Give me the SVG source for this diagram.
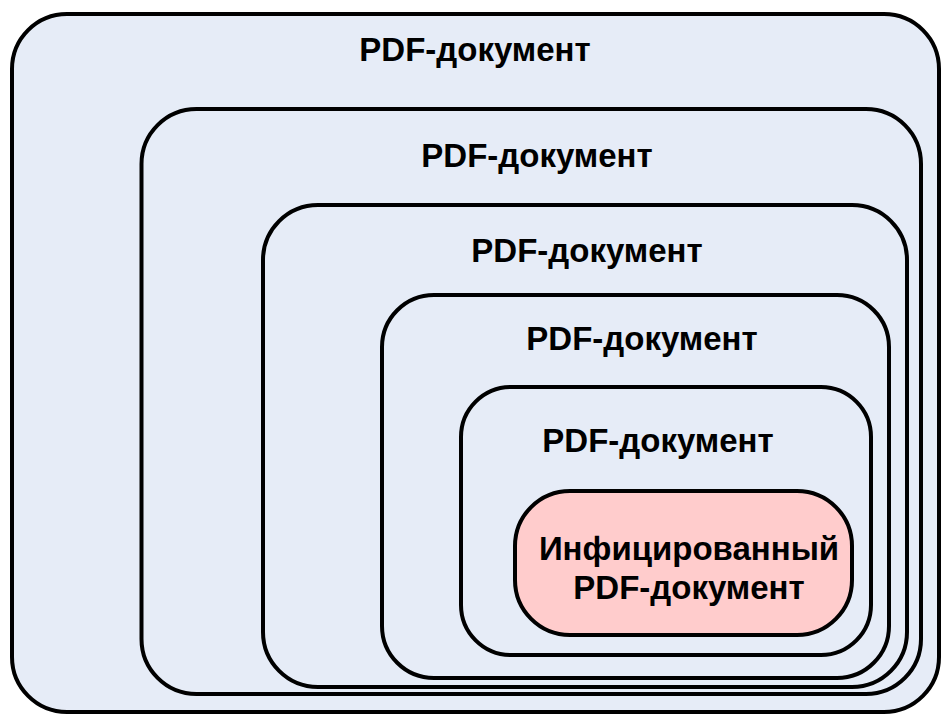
<svg xmlns="http://www.w3.org/2000/svg" width="942" height="715" viewBox="0 0 942 715">
<style>
.box{fill:#E6ECF7;stroke:#000;stroke-width:4}
.inf{fill:#FFCCCC;stroke:#000;stroke-width:4}
.t{font-family:"Liberation Sans",Arial,sans-serif;font-weight:bold;font-size:33px;fill:#000;text-anchor:middle}
</style>
<rect width="942" height="715" fill="#FFFFFF"/>
<g id="doc1">
<rect class="box" x="12" y="14" width="927" height="698" rx="55" ry="55"/>
<text class="t" x="475" y="61">PDF-документ</text>
</g>
<g id="doc2">
<rect class="box" x="141.5" y="109" width="779.5" height="585" rx="55" ry="55"/>
<text class="t" x="537" y="167">PDF-документ</text>
</g>
<g id="doc3">
<rect class="box" x="263" y="205" width="644" height="482" rx="55" ry="55"/>
<text class="t" x="587" y="262">PDF-документ</text>
</g>
<g id="doc4">
<rect class="box" x="382" y="295" width="507" height="383" rx="52" ry="52"/>
<text class="t" x="642" y="350">PDF-документ</text>
</g>
<g id="doc5">
<rect class="box" x="461" y="387" width="410" height="268" rx="50" ry="50"/>
<text class="t" x="658" y="452">PDF-документ</text>
</g>
<g id="infected">
<rect class="inf" x="515" y="491" width="337" height="144" rx="55" ry="55"/>
<text class="t" x="689" y="560">Инфицированный</text>
<text class="t" x="689" y="599">PDF-документ</text>
</g>
<g id="connectors"/>
</svg>
